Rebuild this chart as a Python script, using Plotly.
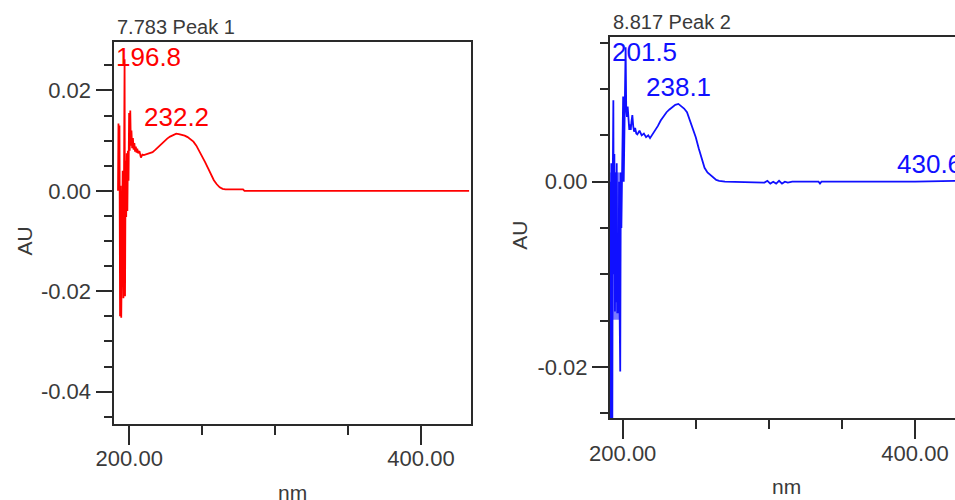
import plotly.graph_objects as go

# ---------------- data ----------------
# Peak 1 (red) spectrum: wavelength (nm) and absorbance (AU)
p1_nm = [192.3, 192.6, 192.9, 193.3, 193.7, 194.1, 194.5, 195.0, 195.5, 196.0,
         196.5, 196.8, 197.1, 197.5, 197.9, 198.3, 198.7, 199.1, 199.5, 199.9,
         200.3, 200.7, 201.1, 201.5, 202.0, 202.5, 203.0, 203.5, 204.0, 204.5,
         205.0, 205.5, 206.0, 207.0, 208.0, 209.0, 210.0, 212.0, 214.0, 216.0,
         218.0, 220.0, 222.0, 224.0, 226.0, 228.0, 230.0, 232.2, 234.0, 236.0,
         238.0, 240.0, 242.0, 244.0, 246.0, 248.0, 250.0, 252.0, 254.0, 256.0,
         258.0, 260.0, 262.0, 264.0, 266.0, 270.0, 274.0, 278.0, 279.0, 300.0,
         350.0, 400.0, 433.0]
p1_au = [0.0, 0.0134, 0.0015, 0.0130, -0.0250, 0.0010, -0.0253, -0.0100, 0.0040, -0.0214,
         0.0110, 0.0262, -0.0210, 0.0060, -0.0052, 0.0075, -0.0040, 0.0080, 0.0020, 0.0155,
         0.0080, 0.0160, 0.0090, 0.0120, 0.0085, 0.0105, 0.0082, 0.0095, 0.0078, 0.0088,
         0.0076, 0.0084, 0.0075, 0.0079, 0.0066, 0.0072, 0.0071, 0.0073, 0.0074, 0.0077,
         0.0082, 0.0088, 0.0094, 0.0099, 0.0104, 0.0108, 0.0111, 0.0114, 0.0113, 0.0112,
         0.0110, 0.0107, 0.0103, 0.0098, 0.0090, 0.0080, 0.0069, 0.0057, 0.0045, 0.0032,
         0.0021, 0.0013, 0.0007, 0.0004, 0.0003, 0.0003, 0.0003, 0.0003, 0.0, 0.0,
         0.0, 0.0, 0.0]

# Peak 2 (blue) spectrum
p2_nm = [191.6, 191.9, 192.2, 192.6, 192.9, 193.2, 193.6, 193.9, 194.3, 194.7,
         195.1, 195.5, 195.9, 196.3, 196.7, 197.1, 197.5, 197.9, 198.3, 198.7,
         199.1, 199.5, 199.9, 200.3, 200.7, 201.2, 201.6, 202.0, 202.4, 202.9,
         203.4, 204.0, 204.5, 205.0, 205.5, 206.0, 206.6, 207.2, 207.8, 208.5,
         209.3, 210.0, 211.5, 213.0, 214.5, 216.0, 217.5, 218.7, 220.0, 222.0,
         224.0, 226.0, 228.0, 230.0, 232.0, 234.0, 236.0, 238.1, 240.0, 242.0,
         244.0, 246.0, 248.0, 250.0, 252.0, 254.0, 256.0, 258.0, 260.0, 262.0,
         264.0, 266.0, 270.0, 297.0, 299.0, 301.0, 303.0, 305.0, 307.0, 309.0,
         311.0, 313.0, 316.0, 334.0, 335.0, 336.0, 400.0, 430.6, 433.0]
p2_au = [0.0, -0.0260, 0.0020, -0.0150, -0.0265, 0.0, 0.0088, -0.0100, 0.0030, -0.0140,
         0.0010, -0.0130, 0.0020, -0.0142, -0.0056, -0.0142, 0.0, -0.0140, -0.0205, 0.0010,
         -0.0050, 0.0, 0.0085, 0.0092, 0.0, 0.0090, 0.0080, 0.0145, 0.0080, 0.0070,
         0.0081, 0.0065, 0.0056, 0.0062, 0.0056, 0.0065, 0.0072, 0.0060, 0.0054, 0.0058,
         0.0052, 0.0051, 0.0055, 0.0050, 0.0052, 0.0048, 0.0050, 0.0047, 0.0050, 0.0054,
         0.0060, 0.0066, 0.0071, 0.0075, 0.0078, 0.0081, 0.0083, 0.0084, 0.0082, 0.0079,
         0.0075, 0.0066, 0.0057, 0.0048, 0.0036, 0.0024, 0.0015, 0.0010, 0.0007, 0.0004,
         0.0002, 0.0001, 0.0, -0.0001, 0.0001, -0.0002, 0.0, -0.0002, 0.0001, -0.0002,
         0.0, -0.0001, 0.0, 0.0, -0.0002, 0.0, 0.0, 0.0001, 0.0001]

# Peak 2 low-wavelength noise (dense, drawn lighter)
p2_noise_nm = [191.5, 191.75, 192.0, 192.25, 192.5, 192.75, 193.0, 193.25, 193.5, 193.75,
               194.0, 194.25, 194.5, 194.75, 195.0, 195.25, 195.5, 195.75, 196.0, 196.25,
               196.5, 196.75, 197.0, 197.25, 197.5, 197.75, 198.0, 198.25, 198.5]
p2_noise_au = [0.001, -0.0148, 0.001, -0.0149, 0.0008, -0.0147, 0.001, -0.0149, 0.0009, -0.0148,
               0.001, -0.0149, 0.0008, -0.0148, 0.001, -0.0149, 0.0009, -0.0147, 0.001, -0.0149,
               0.0008, -0.0148, 0.001, -0.0149, 0.0009, -0.0148, 0.001, -0.0146, 0.0]

# Peak labels
p1_peaks = [196.8, 232.2]
p1_peak_au = [0.0262, 0.0114]
p2_peaks = [201.5, 238.1, 430.6]
p2_peak_au = [0.0145, 0.0084, 0.0001]

titles = ["7.783 Peak 1", "8.817 Peak 2"]
x_tickvals = [200, 400]
x_ticktext = ["200.00", "400.00"]
y1_tickvals = [0.02, 0.0, -0.02, -0.04]
y1_ticktext = ["0.02", "0.00", "-0.02", "-0.04"]
y2_tickvals = [0.0, -0.02]
y2_ticktext = ["0.00", "-0.02"]

# ---------------- layout geometry (pixels) ----------------
W, H = 955, 500
FONT = "Liberation Sans, Arial, sans-serif"
TXT = "#3a3a3a"
AXC = "#2a2a2a"
LBL_FS = 26

# panel: left px, right px (full), top px, bottom px, x range, y range
P1 = dict(x0=113.5, x1=471.0, y0=42.0, y1=424.0, xr=(189.2, 434.3), yr=(-0.04645, 0.02964))
P2 = dict(x0=610.0, x1=963.0, y0=37.0, y1=418.3, xr=(191.31, 432.86), yr=(-0.02554, 0.01562))

fig = go.Figure()


def px_x(p, v):
    return p["x0"] + (v - p["xr"][0]) / (p["xr"][1] - p["xr"][0]) * (p["x1"] - p["x0"])


def px_y(p, v):
    return p["y1"] - (v - p["yr"][0]) / (p["yr"][1] - p["yr"][0]) * (p["y1"] - p["y0"])


def add_panel(p, idx, nm, au, color, ytv, ytt, peaks, peak_au, title, noise=None):
    xa = "xaxis" if idx == 1 else "xaxis%d" % idx
    ya = "yaxis" if idx == 1 else "yaxis%d" % idx
    xref = "x" if idx == 1 else "x%d" % idx
    yref = "y" if idx == 1 else "y%d" % idx
    vis_x1 = min(p["x1"], W)
    vis_xr1 = p["xr"][0] + (vis_x1 - p["x0"]) / (p["x1"] - p["x0"]) * (p["xr"][1] - p["xr"][0])
    if noise is not None:
        fig.add_trace(go.Scatter(x=noise[0], y=noise[1], mode="lines", xaxis=xref, yaxis=yref,
                                 line=dict(color=noise[2], width=1.5), showlegend=False,
                                 hoverinfo="skip"))
    fig.add_trace(go.Scatter(x=nm, y=au, mode="lines", xaxis=xref, yaxis=yref,
                             line=dict(color=color, width=1.8), showlegend=False,
                             hoverinfo="skip", cliponaxis=True))
    common = dict(showgrid=False, zeroline=False, showline=True, linecolor=AXC, linewidth=2,
                  ticks="outside", tickcolor=AXC, tickwidth=2, automargin=False,
                  tickfont=dict(family=FONT, size=22, color=TXT), fixedrange=True)
    fig.layout[xa] = dict(domain=[p["x0"] / W, vis_x1 / W], range=[p["xr"][0], vis_xr1],
                          anchor=yref, tickvals=x_tickvals, ticktext=x_ticktext,
                          ticklen=19, mirror=True, ticklabelstandoff=-5,
                          minor=dict(dtick=50, tick0=0, ticklen=9, tickwidth=2, tickcolor=AXC,
                                     ticks="outside", showgrid=False),
                          **common)
    fig.layout[ya] = dict(domain=[1 - p["y1"] / H, 1 - p["y0"] / H], range=list(p["yr"]),
                          anchor=xref, tickvals=ytv, ticktext=ytt, ticklen=16,
                          mirror=(p["x1"] <= W),
                          minor=dict(dtick=0.005, tick0=0, ticklen=8, tickwidth=2, tickcolor=AXC,
                                     ticks="outside", showgrid=False),
                          **common)
    # peak labels, centred above the peak and kept inside the plot box
    for pk, pa in zip(peaks, peak_au):
        text = "%.1f" % pk
        w = len(text) * 0.52 * LBL_FS
        cx = px_x(p, pk)
        cx = max(p["x0"] + 1 + w / 2, min(p["x1"] - w / 2, cx))
        cy = px_y(p, pa) - 17
        cy = max(p["y0"] + 15.5, cy)
        fig.add_annotation(x=cx / W, y=1 - cy / H, xref="paper", yref="paper",
                           text=text, showarrow=False, xanchor="center", yanchor="middle",
                           font=dict(family=FONT, size=LBL_FS, color=color))
    # panel title
    fig.add_annotation(x=(p["x0"] + 1) / W, y=1 - (p["y0"] - 15) / H, xref="paper", yref="paper",
                       text=title, showarrow=False, xanchor="left", yanchor="middle",
                       font=dict(family=FONT, size=20, color=TXT))
    # axis titles
    fig.add_annotation(x=(p["x0"] + p["x1"]) / 2 / W, y=1 - (p["y1"] + 68) / H,
                       xref="paper", yref="paper", text="nm", showarrow=False,
                       xanchor="center", yanchor="middle",
                       font=dict(family=FONT, size=21, color=TXT))
    fig.add_annotation(x=(p["x0"] - 90) / W, y=1 - ((p["y0"] + p["y1"]) / 2 + 8) / H,
                       xref="paper", yref="paper", text="AU", showarrow=False, textangle=-90,
                       xanchor="center", yanchor="middle",
                       font=dict(family=FONT, size=21, color=TXT))


add_panel(P1, 1, p1_nm, p1_au, "#ff0000", y1_tickvals, y1_ticktext, p1_peaks, p1_peak_au, titles[0])
add_panel(P2, 2, p2_nm, p2_au, "#1010ff", y2_tickvals, y2_ticktext, p2_peaks, p2_peak_au, titles[1],
          noise=(p2_noise_nm, p2_noise_au, "#7a7aff"))

fig.update_layout(template="none", width=W, height=H, margin=dict(l=0, r=0, t=0, b=0, autoexpand=False),
                  paper_bgcolor="white", plot_bgcolor="white")
fig.write_html("out.html", config={"displayModeBar": False},
               post_script="document.body.style.margin='0';document.body.style.overflow='hidden';")
